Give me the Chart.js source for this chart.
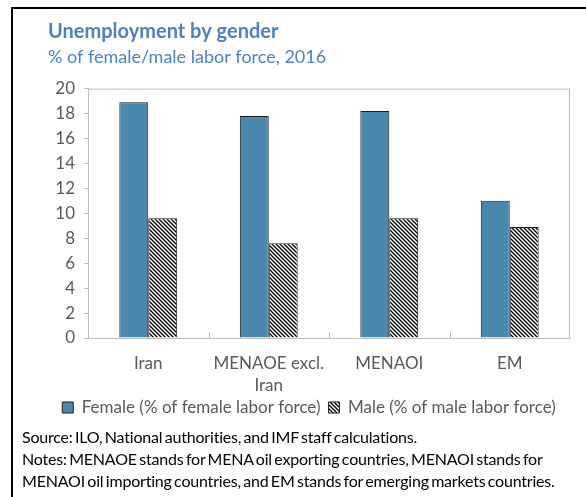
<!DOCTYPE html>
<html>
<head>
<meta charset="utf-8">
<script src="https://cdn.jsdelivr.net/npm/chart.js@4"></script>
<style>
  body { margin: 0; background: #fff; }
  #frame { position: absolute; left: 11px; top: 7px; width: 620px; height: 520px; border: 2px solid #000; }
  #wrap { position: absolute; left: 0; top: 0; width: 586px; height: 430px; }
  #notes { position: absolute; left: 22px; top: 426px; font-family: Lato, sans-serif; font-size: 16px; line-height: 22px; color: #000; word-spacing: -1.5px; letter-spacing: -0.2px; }
</style>
</head>
<body>
<div id="frame"></div>
<div id="wrap"><canvas id="myChart"></canvas></div>
<div id="notes">
  Source: ILO, National authorities, and IMF staff calculations.<br>
  Notes: MENAOE stands for MENA oil exporting countries, MENAOI stands for<br>
  MENAOI oil importing countries, and EM stands for emerging markets countries.
</div>
<script>
const categories = ['Iran', ['MENAOE excl.', 'Iran'], 'MENAOI', 'EM']
const female = [18.9, 17.8, 18.2, 11.0]
const male = [9.6, 7.6, 9.6, 8.9]
const yTicks = [0, 20, 2]

// diagonal hatch for the male bars
function hatch() {
  const c = document.createElement('canvas')
  c.width = 4
  c.height = 4
  const g = c.getContext('2d')
  g.fillStyle = '#fff'
  g.fillRect(0, 0, 4, 4)
  g.strokeStyle = '#000'
  g.lineWidth = 1.3
  g.beginPath()
  g.moveTo(-1, -1); g.lineTo(5, 5)
  g.moveTo(-1, 3); g.lineTo(1, 5)
  g.moveTo(3, -1); g.lineTo(5, 1)
  g.stroke()
  return g.createPattern(c, 'repeat')
}

// box around the plot and little inward ticks on the category axis
const plotFrame = {
  id: 'plotFrame',
  afterDatasetsDraw(chart) {
    const { ctx, chartArea: a, scales } = chart
    ctx.save()
    ctx.strokeStyle = '#bfbfbf'
    ctx.lineWidth = 1
    ctx.strokeRect(a.left + 0.5, a.top + 0.5, a.right - a.left - 1, a.bottom - a.top)
    const n = scales.x.ticks.length
    const w = (a.right - a.left) / n
    ctx.beginPath()
    for (let i = 1; i < n; i++) {
      const x = Math.round(a.left + i * w) + 0.5
      ctx.moveTo(x, a.bottom)
      ctx.lineTo(x, a.bottom - 6)
    }
    ctx.stroke()
    ctx.restore()
  }
}

const ctx = document.getElementById('myChart')

new Chart(ctx, {
  type: 'bar',
  data: {
    labels: categories,
    datasets: [{
      label: 'Female (% of female labor force)',
      data: female,
      backgroundColor: '#4a89ad',
      borderColor: '#1f1f1f',
      borderWidth: 1
    }, {
      label: 'Male (% of male labor force)',
      data: male,
      backgroundColor: hatch(),
      borderColor: '#1f1f1f',
      borderWidth: 1
    }]
  },
  options: {
    responsive: true,
    maintainAspectRatio: false,
    animation: false,
    datasets: { bar: { barPercentage: 1, categoryPercentage: 0.48 } },
    layout: { padding: { left: 48, right: 16, top: 0, bottom: 4 } },
    scales: {
      x: {
        afterFit(scale) { scale.height = 53 },
        grid: { display: false, drawTicks: false },
        border: { display: true, color: '#bfbfbf' },
        ticks: { color: '#595959', font: { family: 'Lato', size: 17, lineHeight: 1.3 }, padding: 14, maxRotation: 0 }
      },
      y: {
        min: yTicks[0],
        max: yTicks[1],
        afterFit(scale) { scale.width = 40 },
        grid: { drawOnChartArea: false, drawTicks: true, tickLength: 4, color: '#bfbfbf' },
        border: { display: true, color: '#bfbfbf' },
        ticks: { stepSize: yTicks[2], autoSkip: false, color: '#595959', font: { family: 'Lato', size: 17 }, padding: 9 }
      }
    },
    plugins: {
      title: {
        display: true,
        text: 'Unemployment by gender',
        align: 'start',
        color: '#4f81bd',
        font: { family: 'Lato', size: 20, weight: 'bold' },
        padding: { top: 20, bottom: 2 }
      },
      subtitle: {
        display: true,
        text: '% of female/male labor force, 2016',
        align: 'start',
        color: '#4f81bd',
        font: { family: 'Lato', size: 18 },
        padding: { top: 0, bottom: 21 }
      },
      legend: {
        position: 'bottom',
        labels: { color: '#595959', font: { family: 'Lato', size: 17 }, boxWidth: 11, boxHeight: 11, padding: 8 }
      },
      tooltip: { enabled: false }
    }
  },
  plugins: [plotFrame]
})
</script>
</body>
</html>
